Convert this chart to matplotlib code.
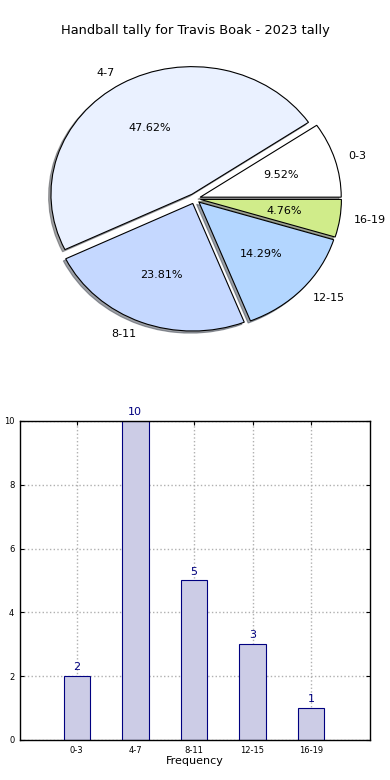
import matplotlib
matplotlib.use("Agg")
import matplotlib.pyplot as plt

categories = ["0-3", "4-7", "8-11", "12-15", "16-19"]
counts = [2, 10, 5, 3, 1]
pie_colors = ["#ffffff", "#eaf1ff", "#c5d8ff", "#b3d6ff", "#d0ec8a"]
explode = [0.04, 0.04, 0.04, 0.04, 0.04]
title = "Handball tally for Travis Boak - 2023 tally"

fig = plt.figure(figsize=(3.9, 7.8), dpi=100)

# Pie
ax1 = fig.add_axes([0.0475, 0.5408, 0.904, 0.409])
ax1.pie(counts, labels=categories, colors=pie_colors, explode=explode,
        autopct="%.2f%%", startangle=0,
        shadow={"ox": -0.012, "oy": -0.012, "label": "_nolegend_"},
        wedgeprops=dict(edgecolor="black", linewidth=0.8),
        textprops=dict(fontsize=8))
ax1.set_aspect("auto")
ax1.set_xlim(-1.25, 1.25)
ax1.set_ylim(-1.25, 1.25)
fig.text(0.5, 0.961, title, ha="center", va="center", fontsize=9.4)

# Bars
ax2 = fig.add_axes([0.051, 0.0513, 0.897, 0.409])
x = list(range(len(categories)))
bars = ax2.bar(x, counts, width=0.45, color="#ccccE6", edgecolor="#000080",
               linewidth=0.8, zorder=2)
for xi, c in zip(x, counts):
    ax2.text(xi, c + 0.12, str(c), ha="center", va="bottom", color="#000080",
             fontsize=8)
ax2.set_xticks(x)
ax2.set_xticklabels(categories)
ax2.set_yticks([0, 2, 4, 6, 8, 10])
ax2.set_xlim(-0.97, 5.0)
ax2.set_ylim(0, 10)
ax2.grid(True, linestyle=":", color="#b0b0b0", linewidth=1.0, zorder=0)
ax2.set_axisbelow(True)
ax2.tick_params(direction="in", top=True, right=True, labelsize=6,
                length=3, width=0.8, pad=4)
ax2.set_xlabel("Frequency", fontsize=8, labelpad=1)
ax2.set_ylabel("Number of Games", fontsize=8, labelpad=6)
for s in ax2.spines.values():
    s.set_linewidth(1.0)

fig.savefig("out.png", dpi=100, facecolor="white")
